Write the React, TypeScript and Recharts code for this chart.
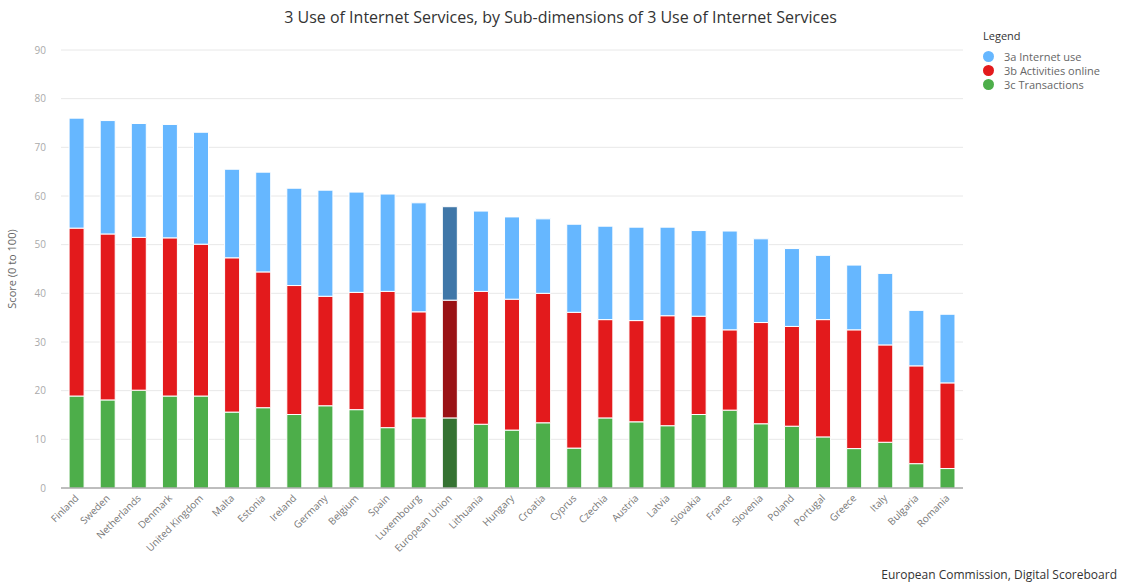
import { Bar, BarChart, CartesianGrid, Cell, XAxis, YAxis } from 'recharts'

const countries = [
  'Finland', 'Sweden', 'Netherlands', 'Denmark', 'United Kingdom', 'Malta', 'Estonia', 'Ireland',
  'Germany', 'Belgium', 'Spain', 'Luxembourg', 'European Union', 'Lithuania', 'Hungary', 'Croatia',
  'Cyprus', 'Czechia', 'Austria', 'Latvia', 'Slovakia', 'France', 'Slovenia', 'Poland', 'Portugal',
  'Greece', 'Italy', 'Bulgaria', 'Romania',
]

// 3a Internet use
const internetUse = [
  22.6, 23.3, 23.4, 23.3, 23.0, 18.2, 20.5, 20.0, 21.8, 20.6, 20.0, 22.4, 19.2, 16.5, 16.9, 15.3,
  18.1, 19.2, 19.2, 18.2, 17.6, 20.3, 17.2, 16.0, 13.2, 13.3, 14.7, 11.4, 14.1,
]
// 3b Activities online
const activitiesOnline = [
  34.5, 34.1, 31.4, 32.5, 31.2, 31.7, 27.9, 26.5, 22.5, 24.1, 28.0, 21.8, 24.2, 27.3, 26.9, 26.6,
  27.9, 20.2, 20.8, 22.6, 20.2, 16.5, 20.8, 20.5, 24.1, 24.4, 20.0, 20.1, 17.6,
]
// 3c Transactions
const transactions = [
  18.9, 18.1, 20.1, 18.9, 18.9, 15.6, 16.5, 15.1, 16.9, 16.1, 12.4, 14.4, 14.4, 13.1, 11.9, 13.4,
  8.2, 14.4, 13.6, 12.8, 15.1, 16.0, 13.2, 12.7, 10.5, 8.1, 9.4, 5.0, 4.0,
]

const yTicks = [0, 10, 20, 30, 40, 50, 60, 70, 80, 90]
const highlight = 'European Union'

const series = [
  { key: 'transactions', name: '3c Transactions', color: '#4dae4a', dark: '#357232' },
  { key: 'activities', name: '3b Activities online', color: '#e31a1c', dark: '#9a1215' },
  { key: 'internet', name: '3a Internet use', color: '#66b7ff', dark: '#4077a8' },
]

const data = countries.map((country, i) => ({
  country,
  internet: internetUse[i],
  activities: activitiesOnline[i],
  transactions: transactions[i],
}))

const FONT = '"Open Sans", "DejaVu Sans", sans-serif'

function CountryTick({ x, y, payload }: { x?: number; y?: number; payload?: { value: string } }) {
  return (
    <g transform={`translate(${x},${y})`}>
      <text x={0} y={0} dy={4} textAnchor="end" fill="#777" fontSize={10} fontFamily={FONT} transform="rotate(-45)">
        {payload?.value}
      </text>
    </g>
  )
}

function ChartLegend() {
  const items = [...series].reverse()
  return (
    <div style={{ position: 'absolute', left: 983, top: 28, fontFamily: FONT }}>
      <div style={{ fontSize: 11, color: '#333', marginBottom: 6 }}>Legend</div>
      {items.map((s) => (
        <div key={s.key} style={{ display: 'flex', alignItems: 'center', height: 14, fontSize: 11, color: '#666' }}>
          <span style={{ width: 11, height: 11, borderRadius: 6, background: s.color, marginRight: 10 }} />
          {s.name}
        </div>
      ))}
    </div>
  )
}

export default function App() {
  return (
    <div style={{ position: 'absolute', left: 0, top: 0, width: 1121, height: 584, background: '#fff', fontFamily: FONT }}>
      <div style={{ position: 'absolute', top: 6, left: 0, width: 1121, textAlign: 'center', fontSize: 16, color: '#333' }}>
        3 Use of Internet Services, by Sub-dimensions of 3 Use of Internet Services
      </div>
      <BarChart
        width={1121}
        height={584}
        data={data}
        margin={{ top: 50, right: 158, bottom: 0, left: 0 }}
        barCategoryGap="26%"
      >
        <CartesianGrid stroke="#e8e8e8" vertical={false} />
        <XAxis
          dataKey="country"
          interval={0}
          height={96}
          tick={<CountryTick />}
          tickLine={false}
          axisLine={{ stroke: '#888' }}
        />
        <YAxis
          width={61}
          domain={[0, 90]}
          ticks={yTicks}
          tick={{ fontSize: 10, fill: '#aaa', fontFamily: FONT }}
          tickLine={false}
          tickSize={0}
          tickMargin={15}
          axisLine={false}
          label={{
            value: 'Score (0 to 100)',
            angle: -90,
            position: 'insideLeft',
            offset: 12,
            style: { fontSize: 11, fill: '#666', fontFamily: FONT, textAnchor: 'middle' },
          }}
        />
        {series.map((s) => (
          <Bar
            key={s.key}
            dataKey={s.key}
            name={s.name}
            stackId="a"
            fill={s.color}
            stroke="#fff"
            strokeWidth={1}
            isAnimationActive={false}
          >
            {data.map((d) => (
              <Cell key={d.country} fill={d.country === highlight ? s.dark : s.color} />
            ))}
          </Bar>
        ))}
      </BarChart>
      <ChartLegend />
      <div style={{ position: 'absolute', right: 4, top: 566, fontSize: 12, color: '#333' }}>
        European Commission, Digital Scoreboard
      </div>
    </div>
  )
}
